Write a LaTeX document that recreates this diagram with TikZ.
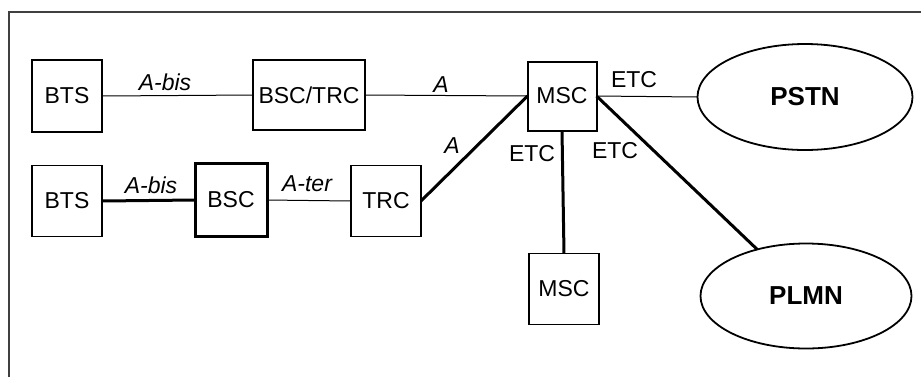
\documentclass[tikz,border=0pt]{standalone}
\usepackage{fontspec}
\setmainfont{Liberation Sans}
\usetikzlibrary{shapes.geometric}
\begin{document}
\begin{tikzpicture}[x=1pt,y=-1pt,
  every node/.style={inner sep=0pt, outer sep=0pt},
  unit/.style={draw, line width=1.6pt, font=\fontsize{23}{26}\selectfont, minimum width=70pt, minimum height=71pt},
  net/.style={draw, ellipse, line width=1.8pt, font=\fontsize{26}{30}\selectfont\bfseries},
  lbl/.style={font=\fontsize{23}{26}\selectfont},
  ilbl/.style={font=\fontsize{23}{26}\selectfont\itshape},
  thin link/.style={line width=1pt},
  thick link/.style={line width=3pt}]
\useasboundingbox (0,0) rectangle (921,376);
\clip (0,0) rectangle (921,376);
\draw[black!75, line width=1.6pt] (9,400) -- (9,12) -- (940,12);
% nodes
\node[unit, line width=2.2pt, minimum height=72pt] (bts1) at (67,96) {BTS};
\node[unit, minimum width=112pt, minimum height=70pt] (bsctrc) at (309,95) {BSC/TRC};
\node[unit, line width=2pt, minimum width=69pt, minimum height=69pt] (msc1) at (562,96) {MSC};
\node[net, minimum width=215pt, minimum height=106pt] (pstn) at (805,97) {PSTN};
\node[unit] (bts2) at (67,201) {BTS};
\node[unit, line width=3pt, minimum width=72pt, minimum height=73pt] (bsc) at (231,200) {BSC};
\node[unit, line width=1.3pt] (trc) at (386,201) {TRC};
\node[unit, line width=1.2pt] (msc2) at (564,289) {MSC};
\node[net, minimum width=211pt, minimum height=105pt] (plmn) at (806,296) {PLMN};
% connectors
\draw[thin link] (bts1.east) -- (bsctrc.west);
\draw[thin link] (bsctrc.east) -- (msc1.west);
\draw[thin link] (msc1.east) -- (pstn.west);
\draw[thick link] (bts2.east) -- (bsc.west);
\draw[thin link] (bsc.east) -- (trc.west);
\draw[thick link] (trc.east) -- (msc1.west);
\draw[thick link] (msc1.south) -- (msc2.north);
\draw[thick link] (msc1.east) -- (plmn);
% labels
\node[ilbl] (l1) at (165,82) {A-bis};
\node[ilbl] (l2) at (441,85) {A};
\node[ilbl] (l3) at (452,146) {A};
\node[ilbl] (l4) at (151,185) {A-bis};
\node[ilbl] (l5) at (307,184) {A-ter};
\node[lbl] (l6) at (634,80) {ETC};
\node[lbl] (l7) at (532,154) {ETC};
\node[lbl] (l8) at (615,151) {ETC};
\end{tikzpicture}
\end{document}
